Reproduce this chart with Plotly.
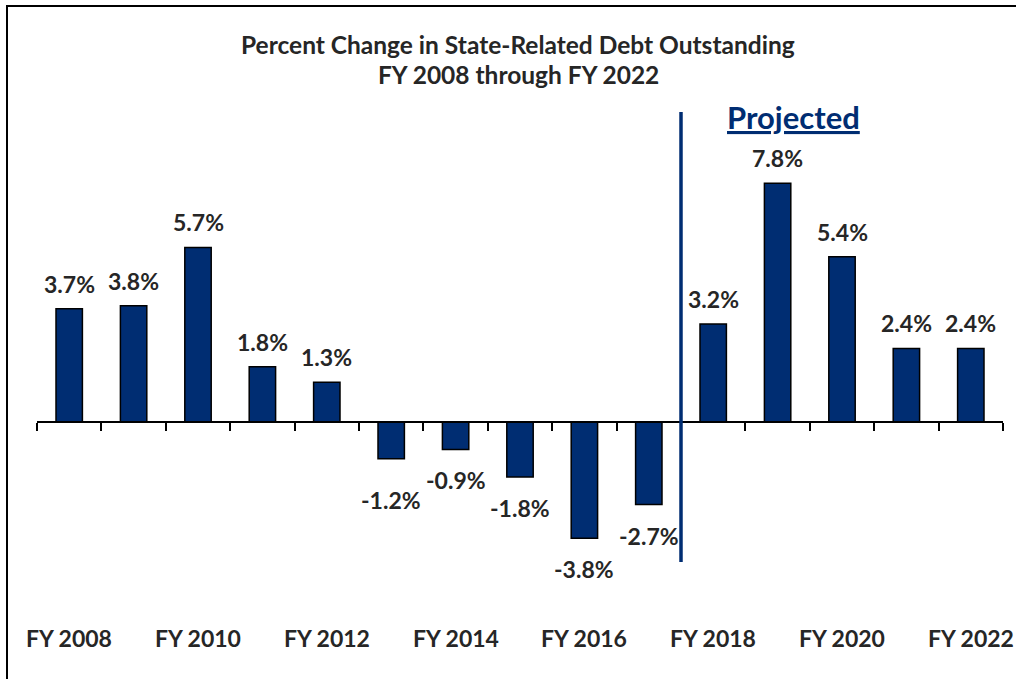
import plotly.graph_objects as go

years = ["FY 2008", "FY 2009", "FY 2010", "FY 2011", "FY 2012", "FY 2013", "FY 2014",
         "FY 2015", "FY 2016", "FY 2017", "FY 2018", "FY 2019", "FY 2020", "FY 2021", "FY 2022"]
pct_change = [3.7, 3.8, 5.7, 1.8, 1.3, -1.2, -0.9, -1.8, -3.8, -2.7, 3.2, 7.8, 5.4, 2.4, 2.4]
first_projected = "FY 2018"
shown_labels = ["FY 2008", "FY 2010", "FY 2012", "FY 2014", "FY 2016", "FY 2018", "FY 2020", "FY 2022"]
title_line1 = "Percent Change in State-Related Debt Outstanding"
title_line2 = "FY 2008 through FY 2022"

NAVY = "#002D72"
TEXT = "#262626"
FONT = "Lato"

W, H = 1016, 679
ML, MR, MT, MB = 37, 13, 100, 79
YMIN, YMAX = -5.82, 10.52
plot_h = H - MT - MB

idx = list(range(len(years)))
zero_pos = (0 - YMIN) / (YMAX - YMIN)

fig = go.Figure()
fig.add_trace(go.Bar(
    x=idx, y=pct_change, width=0.41,
    marker=dict(color=NAVY, line=dict(color="black", width=1.5)),
    hoverinfo="skip",
))

annotations = []
# value labels (small nudges to avoid overlap as in original)
nudge = {"FY 2013": -10}
for i, (yr, v) in enumerate(zip(years, pct_change)):
    shift = 25 if v >= 0 else -31
    shift += nudge.get(yr, 0)
    annotations.append(dict(
        x=i, y=v, xref="x", yref="y", text=f"<b>{v:.1f}%</b>", showarrow=False,
        yshift=shift, yanchor="middle", xanchor="center",
        font=dict(family=FONT, size=23, color=TEXT),
    ))
# category labels at bottom
for lab in shown_labels:
    annotations.append(dict(
        x=years.index(lab), y=0, xref="x", yref="paper", text=f"<b>{lab}</b>",
        showarrow=False, yanchor="middle", xanchor="center", yshift=-38,
        font=dict(family=FONT, size=23, color=TEXT),
    ))
# titles
annotations.append(dict(x=0.498, y=(H - MB - 45) / plot_h, xref="paper", yref="paper",
                        text=f"<b>{title_line1}</b>", showarrow=False,
                        yanchor="middle", xanchor="center",
                        font=dict(family=FONT, size=24.5, color=TEXT)))
annotations.append(dict(x=0.498, y=(H - MB - 75) / plot_h, xref="paper", yref="paper",
                        text=f"<b>{title_line2}</b>", showarrow=False,
                        yanchor="middle", xanchor="center",
                        font=dict(family=FONT, size=24.5, color=TEXT)))
annotations.append(dict(x=0.783, y=(H - MB - 117) / plot_h, xref="paper", yref="paper",
                        text='<span style="text-decoration:underline"><b>Projected</b></span>',
                        showarrow=False, yanchor="middle", xanchor="center",
                        font=dict(family=FONT, size=31, color=NAVY)))

split_x = years.index(first_projected) - 0.5
shapes = [
    dict(type="line", xref="x", yref="paper", x0=split_x, x1=split_x,
         y0=(H - MB - 562) / plot_h, y1=(H - MB - 112) / plot_h,
         line=dict(color=NAVY, width=3.5)),
    dict(type="rect", xref="paper", yref="paper",
         x0=(7 - ML) / (W - ML - MR), x1=1.2,
         y0=-0.3, y1=(H - MB - 6) / plot_h,
         line=dict(color="black", width=2)),
]

fig.update_layout(
    width=W, height=H,
    margin=dict(l=ML, r=MR, t=MT, b=MB),
    paper_bgcolor="white", plot_bgcolor="white",
    showlegend=False,
    xaxis=dict(
        range=[-0.5, len(years) - 0.5],
        tickvals=[i - 0.5 for i in range(len(years) + 1)],
        ticktext=[""] * (len(years) + 1),
        ticks="outside", ticklen=8, tickwidth=1.5, tickcolor="black",
        showline=True, linecolor="black", linewidth=1.5,
        showgrid=False, zeroline=False,
        anchor="free", position=zero_pos,
        fixedrange=True,
    ),
    yaxis=dict(range=[YMIN, YMAX], visible=False, showgrid=False, zeroline=False,
               fixedrange=True),
    annotations=annotations,
    shapes=shapes,
)

fig.write_html(
    "out.html",
    config={"displayModeBar": False},
    post_script="document.body.style.margin='0';document.body.style.overflow='hidden';",
)
